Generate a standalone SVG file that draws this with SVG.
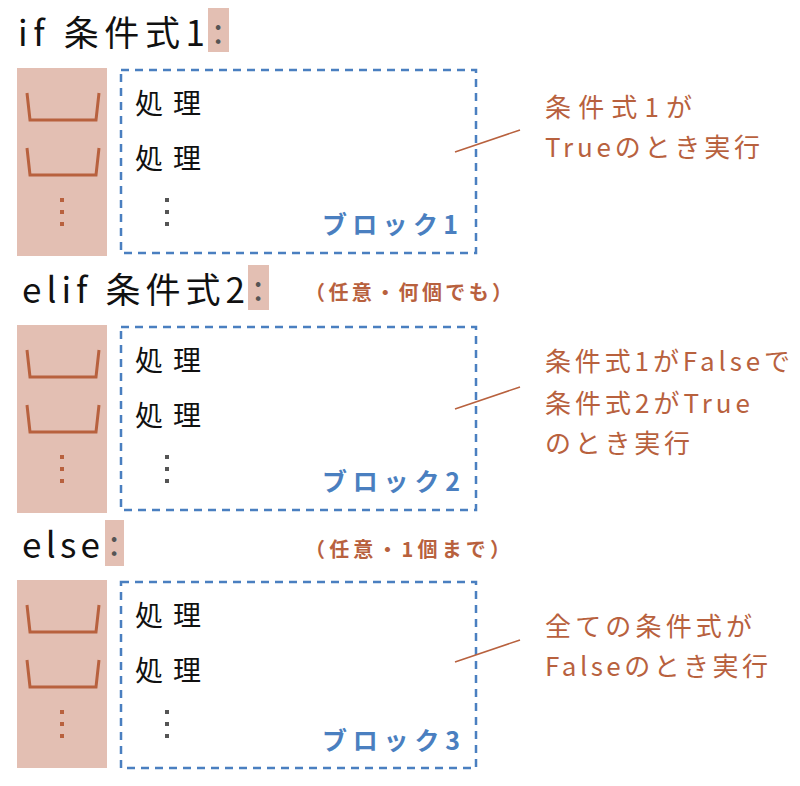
<svg xmlns="http://www.w3.org/2000/svg" width="800" height="786" viewBox="0 0 800 786">
<style>
text{font-family:"Noto Sans CJK JP","Noto Sans",sans-serif}
.t{font-size:35px;fill:#111}
.c{font-size:35px;fill:#555;text-anchor:middle}
.p{font-size:28px;fill:#111}
.b{font-size:25px;font-weight:bold;fill:#4a7fc0}
.a{font-size:26px;fill:#b8613e}
.o{font-size:20px;font-weight:bold;fill:#b8613e}
.hl{fill:#e3bfb3}
.box{fill:none;stroke:#4a7fc0;stroke-width:2.5;stroke-dasharray:8 6}
.bowl{fill:none;stroke:#b8613e;stroke-width:3}
.ld{stroke:#b8613e;stroke-width:1.5}
</style>
<defs>
<g id="col">
<rect class="hl" x="17" y="0" width="90" height="188"/>
<path class="bowl" d="M27 25 L30 52 L96 52 L99 25"/>
<path class="bowl" d="M27 80 L30 107 L96 107 L99 80"/>
<rect x="60" y="130" width="4" height="4" fill="#b8613e"/>
<rect x="60" y="142" width="4" height="4" fill="#b8613e"/>
<rect x="60" y="154" width="4" height="4" fill="#b8613e"/>
<rect x="165" y="130" width="4" height="4" fill="#555"/>
<rect x="165" y="142" width="4" height="4" fill="#555"/>
<rect x="165" y="154" width="4" height="4" fill="#555"/>
<text class="p" x="135" y="46" textLength="66">処理</text>
<text class="p" x="135" y="101" textLength="66">処理</text>
</g>
</defs>
<g id="if">
<rect class="hl" x="208" y="8" width="21" height="44"/>
<text class="t" x="18" y="46" textLength="187">if 条件式1</text>
<text class="c" x="218" y="44">:</text>
<use href="#col" y="68"/>
<rect class="box" x="121" y="70" width="355" height="183"/>
<text class="b" x="322" y="234" textLength="136">ブロック1</text>
<text class="a" x="545" y="117" textLength="147">条件式1が</text>
<text class="a" x="545" y="157" textLength="215">Trueのとき実行</text>
</g>
<g id="elif">
<rect class="hl" x="248" y="265" width="21" height="45"/>
<text class="t" x="22" y="303" textLength="223">elif 条件式2</text>
<text class="c" x="258" y="301">:</text>
<text class="o" x="305" y="300" textLength="207">（任意・何個でも）</text>
<use href="#col" y="325"/>
<rect class="box" x="121" y="327" width="355" height="183"/>
<text class="b" x="322" y="491" textLength="138">ブロック2</text>
<text class="a" x="545" y="371" textLength="245">条件式1がFalseで</text>
<text class="a" x="545" y="413" textLength="205">条件式2がTrue</text>
<text class="a" x="545" y="453" textLength="145">のとき実行</text>
</g>
<g id="else">
<rect class="hl" x="105" y="520" width="19" height="46"/>
<text class="t" x="22" y="558" textLength="78">else</text>
<text class="c" x="114" y="556">:</text>
<text class="o" x="305" y="557" textLength="205">（任意・1個まで）</text>
<use href="#col" y="580"/>
<rect class="box" x="121" y="582" width="355" height="186"/>
<text class="b" x="322" y="750" textLength="138">ブロック3</text>
<text class="a" x="545" y="636" textLength="207">全ての条件式が</text>
<text class="a" x="545" y="676" textLength="223">Falseのとき実行</text>
</g>
<g id="connectors">
<line class="ld" x1="455" y1="152" x2="520" y2="130"/>
<line class="ld" x1="455" y1="409" x2="520" y2="387"/>
<line class="ld" x1="455" y1="662" x2="520" y2="640"/>
</g>
</svg>
